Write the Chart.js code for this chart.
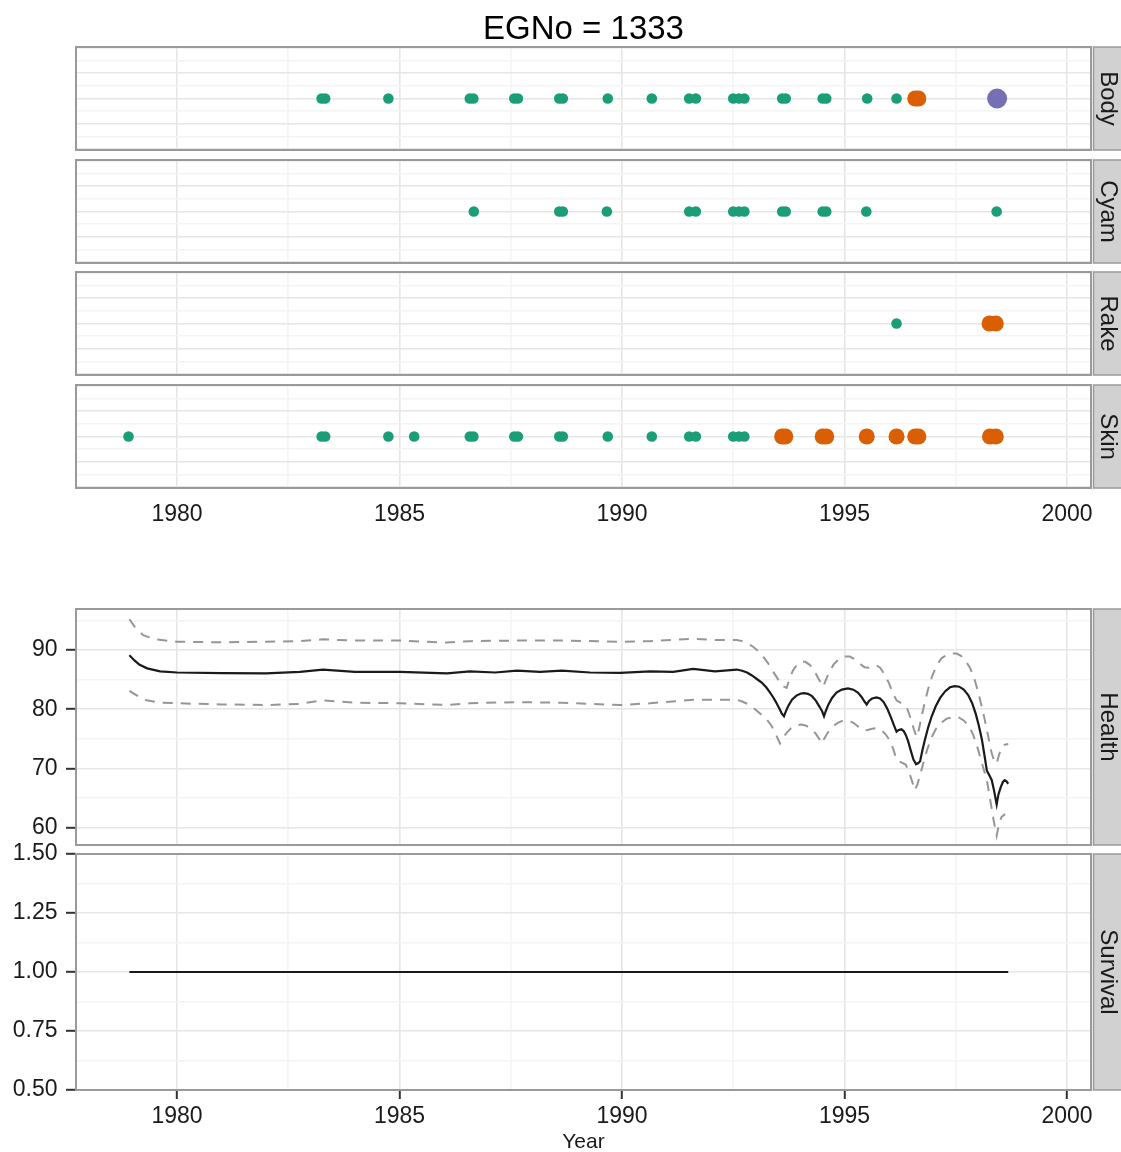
<!DOCTYPE html>
<html>
<head>
<meta charset="utf-8">
<title>EGNo = 1333</title>
<script src="https://cdn.jsdelivr.net/npm/chart.js@4.4.0/dist/chart.umd.min.js"></script>
<style>
  html, body { margin: 0; padding: 0; background: #fff; overflow: hidden; }
  body { width: 1121px; height: 1152px; position: relative; }
  .panel { position: absolute; left: 0; width: 1121px; }
  canvas { display: block; }
</style>
</head>
<body>
<div class="panel" style="top:0px"><canvas id="body" width="1121" height="152"></canvas></div>
<div class="panel" style="top:158px"><canvas id="cyam" width="1121" height="107"></canvas></div>
<div class="panel" style="top:270px"><canvas id="rake" width="1121" height="107"></canvas></div>
<div class="panel" style="top:383px"><canvas id="skin" width="1121" height="160"></canvas></div>
<div class="panel" style="top:600px"><canvas id="health" width="1121" height="247"></canvas></div>
<div class="panel" style="top:840px"><canvas id="survival" width="1121" height="330"></canvas></div>
<script>
// chart data
const plotTitle = 'EGNo = 1333';
const yearLabels = [1980, 1985, 1990, 1995, 2000];
const yearMinor = [1982.5, 1987.5, 1992.5, 1997.5];
const healthTicks = [60, 70, 80, 90];
const healthMinor = [65, 75, 85, 95];
const survivalTicks = [0.5, 0.75, 1.0, 1.25, 1.5];
const survivalMinor = [0.625, 0.875, 1.125, 1.375];
const dotTicks = [-2, -1, 0, 1, 2];
const dotMinor = [-1.5, -0.5, 0.5, 1.5];

// sightings per body-condition category, by severity
const bodyMild = [1983.25, 1983.33, 1984.75, 1986.58, 1986.66, 1987.58, 1987.66, 1988.59, 1988.67,
  1989.68, 1990.67, 1991.51, 1991.66, 1992.50, 1992.63, 1992.75, 1993.60, 1993.68, 1994.51, 1994.59,
  1995.51, 1996.17];
const bodyModerate = [1996.59, 1996.66];
const bodySevere = [1998.43];
const cyamMild = [1986.67, 1988.59, 1988.67, 1989.66, 1991.51, 1991.66, 1992.50, 1992.63, 1992.75,
  1993.60, 1993.68, 1994.51, 1994.59, 1995.49, 1998.42];
const rakeMild = [1996.17];
const rakeModerate = [1998.26, 1998.40];
const skinMild = [1978.91, 1983.25, 1983.33, 1984.75, 1985.33, 1986.58, 1986.66, 1987.58, 1987.66,
  1988.59, 1988.67, 1989.68, 1990.67, 1991.51, 1991.66, 1992.50, 1992.63, 1992.75];
const skinModerate = [1993.60, 1993.67, 1994.51, 1994.59, 1995.50, 1996.17, 1996.59, 1996.66, 1998.27, 1998.40];

// health estimate and its band
const healthYears = [1978.93, 1979.05, 1979.16, 1979.33, 1979.62, 1980.00, 1981.01, 1982.00, 1982.76, 1983.28,
  1984.00, 1985.01, 1986.07, 1986.58, 1987.15, 1987.64, 1988.16, 1988.65, 1989.28, 1989.96,
  1990.63, 1991.15, 1991.60, 1992.09, 1992.58, 1992.70, 1992.81, 1992.92, 1993.03, 1993.14,
  1993.24, 1993.32, 1993.39, 1993.46, 1993.53, 1993.59, 1993.64, 1993.68, 1993.74, 1993.82,
  1993.92, 1994.02, 1994.09, 1994.18, 1994.27, 1994.36, 1994.44, 1994.50, 1994.54, 1994.58,
  1994.64, 1994.72, 1994.82, 1994.94, 1995.08, 1995.20, 1995.30, 1995.38, 1995.45, 1995.50,
  1995.55, 1995.62, 1995.72, 1995.80, 1995.88, 1995.96, 1996.04, 1996.11, 1996.17, 1996.22,
  1996.28, 1996.33, 1996.38, 1996.43, 1996.49, 1996.55, 1996.61, 1996.66, 1996.70, 1996.75,
  1996.81, 1996.88, 1996.96, 1997.05, 1997.15, 1997.26, 1997.37, 1997.48, 1997.58, 1997.68,
  1997.78, 1997.87, 1997.95, 1998.02, 1998.09, 1998.15, 1998.20, 1998.25, 1998.31, 1998.36,
  1998.42, 1998.46, 1998.51, 1998.56, 1998.60, 1998.64, 1998.68];
const healthMean = [89.1, 88.2, 87.5, 86.9, 86.4, 86.2, 86.1, 86.05, 86.3, 86.7,
  86.3, 86.3, 86.05, 86.4, 86.2, 86.5, 86.3, 86.5, 86.2, 86.15,
  86.4, 86.3, 86.8, 86.4, 86.7, 86.5, 86.2, 85.7, 85.1, 84.5,
  83.7, 82.9, 82.1, 81.2, 80.2, 79.3, 78.8, 79.6, 80.6, 81.6,
  82.3, 82.65, 82.7, 82.6, 82.2, 81.4, 80.4, 79.6, 78.8, 79.7,
  80.8, 81.9, 82.8, 83.3, 83.5, 83.3, 82.8, 82.1, 81.3, 80.8,
  81.4, 81.8, 82.0, 81.8, 81.2, 80.1, 78.7, 77.3, 76.2, 76.5,
  76.6, 76.3, 75.6, 74.6, 73.0, 71.5, 70.7, 70.9, 71.2, 73.0,
  74.9, 76.9, 78.8, 80.5, 81.9, 83.0, 83.7, 83.9, 83.8, 83.3,
  82.4, 81.0, 79.2, 77.2, 74.8, 72.0, 69.6, 68.9, 68.0, 66.3,
  63.9, 65.6, 66.8, 67.7, 68.0, 67.8, 67.4];
const upperYears = [1978.93, 1979.06, 1979.24, 1979.51, 1980.00, 1981.01, 1982.00, 1982.76, 1983.28, 1984.00,
  1985.01, 1986.07, 1986.58, 1987.64, 1988.65, 1989.96, 1990.63, 1991.60, 1992.09, 1992.58,
  1992.70, 1992.82, 1992.94, 1993.05, 1993.16, 1993.28, 1993.40, 1993.52, 1993.62, 1993.70,
  1993.76, 1993.84, 1993.93, 1994.02, 1994.12, 1994.22, 1994.32, 1994.42, 1994.52, 1994.58,
  1994.66, 1994.76, 1994.88, 1995.00, 1995.12, 1995.24, 1995.36, 1995.45, 1995.55, 1995.64,
  1995.72, 1995.80, 1995.90, 1996.00, 1996.08, 1996.17, 1996.28, 1996.40, 1996.48, 1996.56,
  1996.62, 1996.67, 1996.73, 1996.80, 1996.88, 1996.97, 1997.07, 1997.18, 1997.30, 1997.42,
  1997.52, 1997.62, 1997.72, 1997.82, 1997.91, 1998.00, 1998.08, 1998.15, 1998.22, 1998.30,
  1998.36, 1998.42, 1998.47, 1998.53, 1998.60, 1998.68];
const upperVals = [95.2, 93.8, 92.5, 91.8, 91.4, 91.3, 91.4, 91.5, 91.8, 91.6,
  91.6, 91.25, 91.5, 91.6, 91.6, 91.4, 91.5, 91.9, 91.7, 91.7,
  91.5, 91.1, 90.6, 89.9, 89.0, 87.8, 86.3, 84.9, 83.9, 83.6,
  85.0, 86.5, 87.5, 88.0, 88.0, 87.5, 86.5, 85.1, 83.8, 84.9,
  86.3, 87.6, 88.5, 88.9, 88.9, 88.4, 87.6, 87.1, 87.0, 87.3,
  87.4, 87.0, 85.9, 84.4, 82.8, 81.5, 81.0, 80.3, 78.6, 76.6,
  75.3, 76.5, 78.7, 81.0, 83.4, 85.6, 87.4, 88.6, 89.2, 89.4,
  89.4, 89.0, 88.2, 87.0, 85.4, 83.0, 80.6, 78.3, 75.8, 72.8,
  71.3, 70.8, 72.2, 73.6, 74.0, 74.1];
const lowerYears = [1978.93, 1979.17, 1979.32, 1979.62, 1980.00, 1981.01, 1982.00, 1982.76, 1983.28, 1984.00,
  1985.01, 1986.07, 1986.58, 1987.64, 1988.65, 1989.96, 1990.63, 1991.60, 1992.58, 1992.70,
  1992.82, 1992.94, 1993.05, 1993.16, 1993.26, 1993.36, 1993.45, 1993.55, 1993.62, 1993.70,
  1993.80, 1993.92, 1994.03, 1994.14, 1994.25, 1994.35, 1994.43, 1994.49, 1994.55, 1994.63,
  1994.73, 1994.85, 1994.97, 1995.08, 1995.20, 1995.32, 1995.42, 1995.52, 1995.62, 1995.72,
  1995.82, 1995.92, 1996.02, 1996.10, 1996.17, 1996.28, 1996.38, 1996.45, 1996.52, 1996.58,
  1996.64, 1996.70, 1996.78, 1996.86, 1996.95, 1997.05, 1997.17, 1997.30, 1997.45, 1997.57,
  1997.68, 1997.79, 1997.88, 1997.97, 1998.05, 1998.13, 1998.20, 1998.27, 1998.35, 1998.42,
  1998.47, 1998.53, 1998.61];
const lowerVals = [83.1, 82.0, 81.5, 81.1, 81.0, 80.8, 80.7, 80.9, 81.5, 81.1,
  81.0, 80.7, 81.0, 81.2, 81.1, 80.7, 81.0, 81.6, 81.6, 81.3,
  80.9, 80.3, 79.6, 78.9, 78.2, 77.2, 75.9, 74.2, 75.2, 76.0,
  76.8, 77.3, 77.4, 77.2, 76.7, 75.9, 75.0, 74.2, 75.1, 76.1,
  77.0, 77.7, 78.1, 78.1, 77.7, 77.0, 76.4, 76.5, 76.7, 76.8,
  76.5, 75.8, 74.7, 73.2, 71.4, 71.0, 70.6, 69.4, 67.8, 66.3,
  67.3, 68.9, 71.1, 73.2, 75.1, 76.6, 77.7, 78.4, 78.7, 78.6,
  78.1, 77.2, 75.9, 74.0, 71.9, 69.8, 68.0, 64.9, 61.3, 58.6,
  60.5, 61.8, 62.3];
const survivalYears = [1978.93, 1998.68];
const survivalVals = [1.0, 1.0];

// styling
const FONT = '"Liberation Sans", Arial, Helvetica, sans-serif';
const INK = '#1a1a1a';
const MAJOR_GRID = '#e6e6e6';
const MINOR_GRID = '#f4f4f4';
const X_MIN = 1977.73, X_MAX = 2000.54;
const MILD = '#1B9E77', MODERATE = '#D95F02', SEVERE = '#7570B3';

Chart.defaults.font.family = FONT;
Chart.defaults.color = INK;
Chart.defaults.animation = false;

const yearGrid = yearLabels.concat(yearMinor).sort((a, b) => a - b);

function setTicks(values) {
  return s => { s.ticks = values.map(v => ({ value: v })); };
}
function gridColor(majors) {
  return c => (c.tick && majors.includes(c.tick.value)) ? MAJOR_GRID : MINOR_GRID;
}
function markColor(majors) {
  return c => (c.tick && majors.includes(c.tick.value)) ? '#333333' : 'rgba(0,0,0,0)';
}
function zip(xs, ys) {
  return xs.map((x, i) => ({ x: x, y: ys[i] }));
}
function row(years) {
  return years.map(x => ({ x: x, y: 0 }));
}

function xAxis(o) {
  return {
    type: 'linear', min: X_MIN, max: X_MAX,
    afterBuildTicks: setTicks(yearGrid),
    afterFit: s => { s.height = o.height; s.paddingLeft = 0; s.paddingRight = 0; },
    border: { display: false },
    grid: {
      color: gridColor(yearLabels), lineWidth: 1.6,
      drawTicks: !!o.marks, tickLength: 9, tickWidth: 2, tickColor: markColor(yearLabels)
    },
    ticks: {
      display: !!o.labels, autoSkip: false, maxRotation: 0, padding: o.pad || 0,
      font: { size: 23 }, color: INK,
      callback: v => yearLabels.includes(v) ? String(v) : ''
    },
    title: o.title
      ? { display: true, text: o.title, font: { size: 21 }, color: INK, padding: { top: 0, bottom: o.titlePad } }
      : { display: false }
  };
}

function yAxis(o) {
  return {
    type: 'linear', min: o.min, max: o.max,
    afterBuildTicks: setTicks(o.majors.concat(o.minors).sort((a, b) => a - b)),
    afterFit: s => { s.width = 76; s.paddingTop = 0; s.paddingBottom = 0; },
    border: { display: false },
    grid: {
      color: gridColor(o.majors), lineWidth: 1.6,
      drawTicks: !!o.labels, tickLength: 10, tickWidth: 2, tickColor: markColor(o.majors)
    },
    ticks: {
      display: !!o.labels, autoSkip: false, padding: 8.5,
      font: { size: 23 }, color: INK,
      callback: v => o.majors.includes(v) ? (o.format ? o.format(v) : String(v)) : ''
    }
  };
}

// panel border, grey strip on the right and, optionally, the plot title
function framePlugin(label, title) {
  return {
    id: 'frame',
    afterDraw(chart) {
      const ctx = chart.ctx;
      const a = chart.chartArea;
      const h = a.bottom - a.top;
      ctx.save();
      ctx.fillStyle = '#d1d1d1';
      ctx.fillRect(a.right + 2, a.top, 60, h);
      ctx.strokeStyle = '#9a9a9a';
      ctx.lineWidth = 1.5;
      ctx.strokeRect(a.right + 2.5, a.top, 60, h);
      ctx.lineWidth = 2;
      ctx.strokeRect(a.left, a.top, a.right - a.left, h);
      if (title) {
        ctx.fillStyle = '#000';
        ctx.font = '33px ' + FONT;
        ctx.textAlign = 'center';
        ctx.textBaseline = 'alphabetic';
        ctx.fillText(title, (a.left + a.right) / 2, 38.5);
      }
      ctx.fillStyle = INK;
      ctx.font = '24px ' + FONT;
      ctx.textAlign = 'center';
      ctx.textBaseline = 'alphabetic';
      ctx.translate(a.right + 10, (a.top + a.bottom) / 2);
      ctx.rotate(Math.PI / 2);
      ctx.fillText(label, 0, 0);
      ctx.restore();
    }
  };
}

function dotSet(years, color, radius) {
  return {
    data: row(years), pointRadius: radius, pointHoverRadius: radius,
    pointBackgroundColor: color, pointBorderWidth: 0, showLine: false
  };
}

function dotChart(id, label, sets, x, pad, title) {
  return new Chart(document.getElementById(id), {
    type: 'scatter',
    data: { datasets: sets },
    options: {
      responsive: false, devicePixelRatio: 1,
      layout: { autoPadding: false, padding: { top: pad.top, bottom: pad.bottom, left: 0, right: 30 } },
      plugins: { legend: { display: false }, tooltip: { enabled: false } },
      scales: {
        x: xAxis(x),
        y: yAxis({ min: -2.04, max: 2.04, majors: dotTicks, minors: dotMinor })
      }
    },
    plugins: [framePlugin(label, title)]
  });
}

dotChart('body', 'Body', [
  dotSet(bodyMild, MILD, 5.3), dotSet(bodyModerate, MODERATE, 8), dotSet(bodySevere, SEVERE, 10)
], { height: 0 }, { top: 47, bottom: 2 }, plotTitle);

dotChart('cyam', 'Cyam', [
  dotSet(cyamMild, MILD, 5.3)
], { height: 0 }, { top: 2, bottom: 2 });

dotChart('rake', 'Rake', [
  dotSet(rakeMild, MILD, 5.3), dotSet(rakeModerate, MODERATE, 8)
], { height: 0 }, { top: 2, bottom: 2 });

dotChart('skin', 'Skin', [
  dotSet(skinMild, MILD, 5.3), dotSet(skinModerate, MODERATE, 8)
], { height: 55, labels: true, pad: 12.7 }, { top: 2, bottom: 0 });

function lineSet(points, color, width, dash) {
  return {
    data: points, showLine: true, borderColor: color, borderWidth: width,
    borderDash: dash, pointRadius: 0, pointHoverRadius: 0, tension: 0, fill: false
  };
}

new Chart(document.getElementById('health'), {
  type: 'scatter',
  data: {
    datasets: [
      lineSet(zip(upperYears, upperVals), '#969696', 2, [10, 8]),
      lineSet(zip(lowerYears, lowerVals), '#969696', 2, [10, 8]),
      lineSet(zip(healthYears, healthMean), INK, 2.2, [])
    ]
  },
  options: {
    responsive: false, devicePixelRatio: 1,
    layout: { autoPadding: false, padding: { top: 9, bottom: 2, left: 0, right: 30 } },
    plugins: { legend: { display: false }, tooltip: { enabled: false } },
    scales: {
      x: xAxis({ height: 0 }),
      y: yAxis({ min: 57.05, max: 96.93, majors: healthTicks, minors: healthMinor, labels: true })
    }
  },
  plugins: [framePlugin('Health')]
});

new Chart(document.getElementById('survival'), {
  type: 'scatter',
  data: {
    datasets: [ lineSet(zip(survivalYears, survivalVals), INK, 2.2, []) ]
  },
  options: {
    responsive: false, devicePixelRatio: 1,
    layout: { autoPadding: false, padding: { top: 14, bottom: 0, left: 0, right: 30 } },
    plugins: { legend: { display: false }, tooltip: { enabled: false } },
    scales: {
      x: xAxis({ height: 80, labels: true, marks: true, pad: 4.2, title: 'Year', titlePad: 14.7 }),
      y: yAxis({ min: 0.5, max: 1.5, majors: survivalTicks, minors: survivalMinor, labels: true,
                 format: v => v.toFixed(2) })
    }
  },
  plugins: [framePlugin('Survival')]
});
</script>
</body>
</html>
